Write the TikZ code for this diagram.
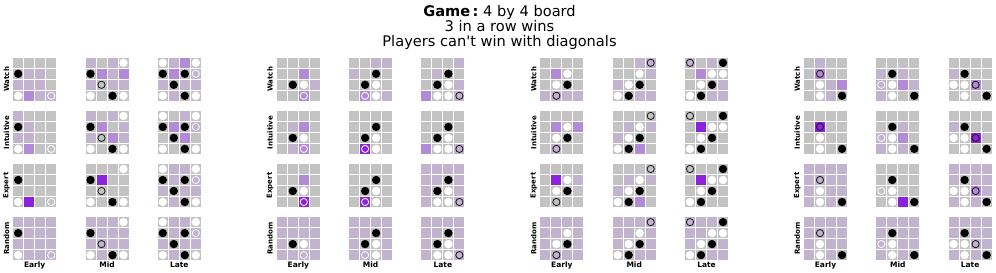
\documentclass[tikz,border=0pt]{standalone}
\usepackage{fontspec}
\newfontfamily\dv{DejaVu Sans}
\definecolor{cG}{HTML}{C3C3C3}
\definecolor{cL}{HTML}{C2B3CF}
\definecolor{cM}{HTML}{B38AD6}
\definecolor{cS}{HTML}{8D22DE}
\definecolor{ink}{HTML}{151515}
\tikzset{
  cellbox/.style={draw=white, line width=1pt},
  stoneB/.style={fill=black, radius=4.2},
  stoneW/.style={fill=white, radius=4.2},
  stoneo/.style={draw=ink, line width=0.8pt, radius=3.6},
  stonew/.style={draw=white, line width=0.8pt, radius=3.6},
  rowlab/.style={rotate=90, inner sep=0pt, font=\dv\fontsize{7}{8}\selectfont\bfseries},
  collab/.style={inner sep=0pt, font=\dv\fontsize{7.5}{8}\selectfont\bfseries},
  titlelab/.style={inner sep=0pt, align=center, font=\dv\fontsize{14.6}{15.2}\selectfont}
}
\newcommand\drawboard[4]{%
  \foreach \bcol [count=\k from 0] in {#3}{%
    \pgfmathtruncatemacro\ri{\k/4}%
    \pgfmathtruncatemacro\ci{mod(\k,4)}%
    \filldraw[cellbox, fill=c\bcol] ({#1+11*\ci},{#2+11*\ri}) rectangle ++(11,11);
  }%
  \foreach \sr/\sc/\st in {#4}{%
    \path[stone\st] ({#1+11*\sc-5.5},{#2+11*\sr-5.5}) circle;
  }%
}
\begin{document}
\begin{tikzpicture}[x=1pt,y=-1pt]
\useasboundingbox (0,0) rectangle (996,273);
\fill[white] (0,0) rectangle (996,273);
\node[titlelab] (title) at (499.5,27.6) {\textbf{Game\,:}\ 4 by 4 board\\3 in a row wins\\Players can't win with diagonals};
\foreach \p in {0,...,3}{%
  \foreach \lab [count=\r from 0] in {Watch,Intuitive,Expert,Random}
    \node[rowlab] (rl-\p-\r) at ({6.5+263.6*\p},{79.3+53.1*\r}) {\lab};
  \foreach \lab [count=\c from 0] in {Early,Mid,Late}
    \node[collab] (cl-\p-\c) at ({34.7+263.6*\p+72.3*\c},265) {\lab};
}
% Panel 1
\drawboard{12.7}{57.3}{G,G,G,G,G,L,L,G,L,L,L,G,G,M,L,L}{2/1/B,4/1/W,4/4/w}
\drawboard{12.7}{110.4}{L,G,G,G,G,L,G,G,L,L,G,G,G,M,G,G}{2/1/B,4/1/W,4/4/w}
\drawboard{12.7}{163.5}{G,G,G,G,G,G,G,G,G,G,G,G,G,S,G,G}{2/1/B,4/1/W,4/4/w}
\drawboard{12.7}{216.6}{L,L,L,L,G,L,L,L,L,L,L,L,G,L,L,L}{2/1/B,4/1/W,4/4/w}
\drawboard{85.0}{57.3}{L,G,L,G,G,M,L,M,L,G,L,L,G,G,G,G}{1/4/W,2/1/B,3/2/o,4/1/W,4/3/B,4/4/W}
\drawboard{85.0}{110.4}{L,G,L,G,G,M,G,L,L,G,M,L,G,G,G,G}{1/4/W,2/1/B,3/2/o,4/1/W,4/3/B,4/4/W}
\drawboard{85.0}{163.5}{G,G,G,G,G,S,G,G,G,G,G,G,G,G,G,G}{1/4/W,2/1/B,3/2/o,4/1/W,4/3/B,4/4/W}
\drawboard{85.0}{216.6}{L,L,L,G,G,L,L,L,L,L,L,L,G,L,G,G}{1/4/W,2/1/B,3/2/o,4/1/W,4/3/B,4/4/W}
\drawboard{157.3}{57.3}{G,L,M,G,G,M,G,L,L,G,L,L,G,L,G,G}{1/1/W,1/4/W,2/1/B,2/3/B,2/4/w,3/2/B,4/1/W,4/3/B,4/4/W}
\drawboard{157.3}{110.4}{G,G,L,G,G,M,G,L,G,G,M,G,G,G,G,G}{1/1/W,1/4/W,2/1/B,2/3/B,2/4/w,3/2/B,4/1/W,4/3/B,4/4/W}
\drawboard{157.3}{163.5}{G,L,L,G,G,L,G,L,L,G,L,L,G,L,G,G}{1/1/W,1/4/W,2/1/B,2/3/B,2/4/w,3/2/B,4/1/W,4/3/B,4/4/W}
\drawboard{157.3}{216.6}{G,L,L,G,G,L,G,L,L,G,L,L,G,L,G,G}{1/1/W,1/4/W,2/1/B,2/3/B,2/4/w,3/2/B,4/1/W,4/3/B,4/4/W}
% Panel 2
\drawboard{276.3}{57.3}{G,G,G,G,G,G,M,G,G,G,G,L,G,G,M,G}{3/2/B,3/3/W,4/3/w}
\drawboard{276.3}{110.4}{G,G,G,G,G,L,M,G,G,G,G,G,G,L,M,G}{3/2/B,3/3/W,4/3/w}
\drawboard{276.3}{163.5}{G,G,G,G,G,G,M,G,G,G,G,G,G,G,S,G}{3/2/B,3/3/W,4/3/w}
\drawboard{276.3}{216.6}{L,L,L,L,L,L,L,L,L,G,G,L,L,L,L,L}{3/2/B,3/3/W,4/3/w}
\drawboard{348.6}{57.3}{G,G,L,L,L,G,G,G,G,G,G,G,G,M,G,L}{2/3/B,3/2/B,3/3/W,4/2/w,4/3/W}
\drawboard{348.6}{110.4}{G,G,G,G,G,G,G,G,G,G,G,G,G,S,G,G}{2/3/B,3/2/B,3/3/W,4/2/w,4/3/W}
\drawboard{348.6}{163.5}{G,G,G,G,G,G,G,G,G,G,G,G,G,S,G,G}{2/3/B,3/2/B,3/3/W,4/2/w,4/3/W}
\drawboard{348.6}{216.6}{L,L,L,L,L,L,G,L,L,G,G,L,L,L,G,L}{2/3/B,3/2/B,3/3/W,4/2/w,4/3/W}
\drawboard{420.9}{57.3}{G,G,G,L,G,L,G,G,G,G,G,L,M,G,G,L}{2/3/B,3/2/B,3/3/W,4/2/W,4/3/W,4/4/o}
\drawboard{420.9}{110.4}{G,G,G,G,G,G,G,G,G,G,G,G,M,G,G,L}{2/3/B,3/2/B,3/3/W,4/2/W,4/3/W,4/4/o}
\drawboard{420.9}{163.5}{L,L,L,L,L,L,G,L,L,G,G,L,L,G,G,L}{2/3/B,3/2/B,3/3/W,4/2/W,4/3/W,4/4/o}
\drawboard{420.9}{216.6}{L,L,L,L,L,L,G,L,L,G,G,L,L,G,G,L}{2/3/B,3/2/B,3/3/W,4/2/W,4/3/W,4/4/o}
% Panel 3
\drawboard{539.9}{57.3}{G,G,G,G,G,M,G,G,G,G,G,G,L,L,L,L}{2/3/W,3/2/W,3/3/B,4/2/o}
\drawboard{539.9}{110.4}{G,G,G,G,G,M,G,M,G,G,G,G,G,L,G,G}{2/3/W,3/2/W,3/3/B,4/2/o}
\drawboard{539.9}{163.5}{G,G,G,G,G,S,G,L,G,G,G,G,G,G,G,G}{2/3/W,3/2/W,3/3/B,4/2/o}
\drawboard{539.9}{216.6}{L,L,L,L,L,L,G,L,L,G,G,L,L,L,L,L}{2/3/W,3/2/W,3/3/B,4/2/o}
\drawboard{612.2}{57.3}{G,G,L,L,G,G,G,L,L,G,G,G,G,G,L,L}{1/4/o,2/3/W,3/2/W,3/3/B,4/1/W,4/2/B}
\drawboard{612.2}{110.4}{G,G,G,G,G,L,G,L,L,G,G,G,G,G,M,G}{1/4/o,2/3/W,3/2/W,3/3/B,4/1/W,4/2/B}
\drawboard{612.2}{163.5}{G,G,G,G,G,L,G,L,L,G,G,G,G,G,M,G}{1/4/o,2/3/W,3/2/W,3/3/B,4/1/W,4/2/B}
\drawboard{612.2}{216.6}{L,L,L,L,L,L,G,L,L,G,G,L,G,G,L,L}{1/4/o,2/3/W,3/2/W,3/3/B,4/1/W,4/2/B}
\drawboard{684.5}{57.3}{L,G,L,G,G,M,G,G,G,G,G,L,G,G,L,L}{1/1/o,1/4/B,2/3/W,2/4/W,3/2/W,3/3/B,4/1/W,4/2/B}
\drawboard{684.5}{110.4}{G,G,G,G,G,S,G,G,G,G,G,G,G,G,G,G}{1/1/o,1/4/B,2/3/W,2/4/W,3/2/W,3/3/B,4/1/W,4/2/B}
\drawboard{684.5}{163.5}{G,G,G,G,G,S,G,G,G,G,G,G,G,G,G,G}{1/1/o,1/4/B,2/3/W,2/4/W,3/2/W,3/3/B,4/1/W,4/2/B}
\drawboard{684.5}{216.6}{L,L,L,G,L,L,G,G,L,G,G,L,G,G,L,L}{1/1/o,1/4/B,2/3/W,2/4/W,3/2/W,3/3/B,4/1/W,4/2/B}
% Panel 4
\drawboard{803.5}{57.3}{G,L,G,G,G,M,G,G,G,G,L,M,G,G,L,G}{2/2/o,3/2/W,4/2/W,4/4/B}
\drawboard{803.5}{110.4}{G,G,G,G,G,S,G,G,G,G,G,G,G,G,G,G}{2/2/o,3/2/W,4/2/W,4/4/B}
\drawboard{803.5}{163.5}{L,L,L,L,L,L,L,L,L,G,L,L,L,G,L,G}{2/2/o,3/2/W,4/2/W,4/4/B}
\drawboard{803.5}{216.6}{L,L,L,L,L,L,L,L,L,G,L,L,L,G,L,G}{2/2/o,3/2/W,4/2/W,4/4/B}
\drawboard{875.8}{57.3}{G,G,G,G,L,G,L,G,L,G,M,L,L,G,G,G}{2/2/B,3/1/w,3/2/W,4/2/W,4/4/B}
\drawboard{875.8}{110.4}{G,G,G,G,G,G,L,G,L,G,M,G,L,G,L,G}{2/2/B,3/1/w,3/2/W,4/2/W,4/4/B}
\drawboard{875.8}{163.5}{G,G,G,G,G,G,G,G,G,G,G,G,G,G,S,G}{2/2/B,3/1/w,3/2/W,4/2/W,4/4/B}
\drawboard{875.8}{216.6}{L,L,L,L,L,G,L,L,L,G,L,L,L,G,L,G}{2/2/B,3/1/w,3/2/W,4/2/W,4/4/B}
\drawboard{948.1}{57.3}{G,G,G,G,L,G,G,G,G,G,M,G,G,G,G,G}{2/2/B,3/1/W,3/2/W,3/3/o,4/2/W,4/4/B}
\drawboard{948.1}{110.4}{G,G,G,G,L,G,G,G,G,G,S,G,G,G,G,G}{2/2/B,3/1/W,3/2/W,3/3/o,4/2/W,4/4/B}
\drawboard{948.1}{163.5}{L,L,L,L,L,G,L,L,G,G,M,L,L,G,L,G}{2/2/B,3/1/W,3/2/W,3/3/o,4/2/W,4/4/B}
\drawboard{948.1}{216.6}{L,L,L,L,L,G,L,L,G,G,L,L,L,G,L,G}{2/2/B,3/1/W,3/2/W,3/3/o,4/2/W,4/4/B}
\end{tikzpicture}
\end{document}
